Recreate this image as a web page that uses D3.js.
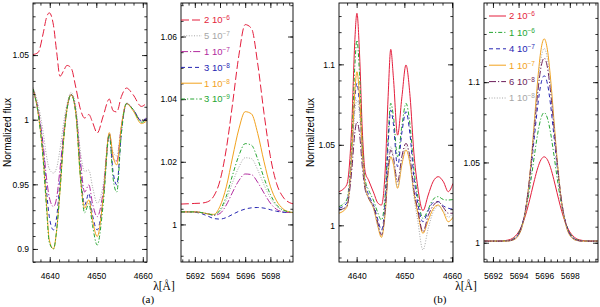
<!DOCTYPE html>
<html><head><meta charset="utf-8">
<script src="https://cdn.jsdelivr.net/npm/d3@7"></script>
<style>body{margin:0;background:#fff}svg{display:block}</style>
</head><body>
<svg id="c" width="600" height="307"></svg>
<script>
// ---------- DATA ----------
// Panel (a) left: 4636-4661 A
const lamA1 = [4636.4,4637.5,4638.6,4639.3,4639.9,4640.8,4641.5,4642.2,4643.0,4643.7,4644.6,4645.6,4646.6,4647.5,4648.4,4649.2,4650.2,4651.5,4652.8,4653.6,4654.4,4655.4,4656.5,4657.9,4659.7,4660.8];
const a1_2e6 = [1.0504,1.052,1.067,1.079,1.0827,1.073,1.052,1.0336,1.038,1.042,1.040,1.025,1.008,1.0013,1.004,0.998,0.9897,1.003,1.016,1.007,1.006,1.018,1.0245,1.0194,1.0103,1.0129];
const a1_5e7 = [1.025,1.012,0.99,0.972,0.962,0.9587,0.963,0.977,0.998,1.012,1.021,1.01,0.975,0.96,0.961,0.948,0.9354,0.95,0.989,0.975,0.972,0.996,1.013,1.008,1.0,1.002];
const a1_1e7 = [1.024,1.008,0.98,0.955,0.94,0.9328,0.94,0.962,0.99,1.009,1.0194,1.007,0.968,0.944,0.9496,0.935,0.925,0.945,0.989,0.97,0.968,0.995,1.0125,1.008,0.999,1.001];
const a1_3e8 = [1.0238,1.006,0.975,0.945,0.925,0.9147,0.925,0.952,0.987,1.008,1.0194,1.006,0.96,0.934,0.943,0.926,0.9147,0.94,0.989,0.96,0.9496,0.99,1.0125,1.008,0.999,1.001];
const a1_1e8 = [1.0238,1.005,0.97,0.935,0.907,0.900,0.915,0.945,0.985,1.008,1.0194,1.005,0.955,0.9315,0.938,0.922,0.9096,0.94,0.990,0.972,0.965,0.995,1.0125,1.007,0.997,0.999];
const a1_3e9 = [1.0238,1.005,0.968,0.932,0.905,0.900,0.915,0.945,0.985,1.008,1.0194,1.005,0.955,0.928,0.935,0.918,0.903,0.935,0.988,0.955,0.944,0.99,1.0125,1.008,0.998,1.0];

// Panel (a) right: 5691-5700 A
const lamA2 = [5690.9,5691.5,5692,5692.5,5693,5693.5,5694,5694.5,5695,5695.5,5696,5696.5,5697,5697.5,5698,5698.5,5699,5699.5,5699.8];
const a2_2e6 = [1.0065,1.0066,1.0067,1.0068,1.0072,1.0090,1.0140,1.0241,1.0386,1.0540,1.0638,1.0626,1.0512,1.0354,1.0217,1.0130,1.0088,1.0070,1.0066];
const a2_5e7 = [1.0040,1.0040,1.0040,1.0038,1.0034,1.0030,1.0042,1.0078,1.0134,1.0183,1.0213,1.0210,1.0174,1.0126,1.0085,1.0058,1.0045,1.0040,1.0038];
const a2_1e7 = [1.0040,1.0040,1.0040,1.0038,1.0034,1.0029,1.0035,1.0062,1.0103,1.0140,1.0161,1.0159,1.0134,1.0100,1.0068,1.0048,1.0040,1.0038,1.0038];
const a2_3e8 = [1.0040,1.0040,1.0039,1.0035,1.0027,1.0019,1.0017,1.0022,1.0032,1.0042,1.0049,1.0053,1.0054,1.0052,1.0047,1.0042,1.0039,1.0038,1.0038];
const a2_1e8 = [1.0040,1.0040,1.0040,1.0038,1.0034,1.0032,1.0058,1.0120,1.0215,1.0305,1.0360,1.0353,1.0290,1.0200,1.0122,1.0075,1.0050,1.0040,1.0038];
const a2_3e9 = [1.0040,1.0040,1.0040,1.0038,1.0034,1.0030,1.0046,1.0090,1.0158,1.0220,1.0258,1.0253,1.0208,1.0148,1.0096,1.0062,1.0046,1.0040,1.0038];

// Panel (b) left: 4636-4660 A
const lamB1 = [4636.3,4637.9,4639.0,4639.6,4640.06,4640.6,4641.2,4641.8,4642.5,4643.6,4644.4,4645.2,4646.0,4646.6,4647.15,4647.7,4648.58,4649.5,4650.34,4651.2,4652.0,4652.8,4653.9,4655.0,4656.0,4657.1,4658.2,4659.2,4660.2];
const b1_2e6 = [1.0209,1.025,1.064,1.1136,1.1317,1.107,1.058,1.033,1.028,1.020,1.014,1.0126,1.035,1.08,1.1093,1.092,1.056,1.08,1.0996,1.08,1.045,1.024,1.0091,1.0188,1.027,1.0302,1.027,1.0209,1.026];
const b1_1e6 = [1.0116,1.0157,1.052,1.098,1.115,1.094,1.050,1.028,1.022,1.015,1.008,1.0033,1.02,1.055,1.0758,1.068,1.0426,1.062,1.0758,1.062,1.035,1.018,1.0043,1.010,1.016,1.0178,1.016,1.0157,1.016];
const b1_4e7 = [1.0106,1.0137,1.045,1.078,1.0882,1.075,1.045,1.026,1.019,1.012,1.004,0.9971,1.015,1.05,1.0716,1.063,1.0364,1.058,1.0706,1.056,1.030,1.014,1.0022,1.009,1.014,1.0147,1.012,1.0106,1.010];
const b1_1e7 = [1.0075,1.011,1.045,1.082,1.0954,1.080,1.045,1.024,1.017,1.010,1.0,0.9925,1.008,1.032,1.0426,1.038,1.023,1.038,1.0468,1.038,1.020,1.008,0.995,1.003,1.010,1.0126,1.008,1.0022,1.005];
const b1_6e8 = [1.0095,1.0116,1.035,1.057,1.0643,1.057,1.036,1.022,1.017,1.011,1.002,0.994,1.01,1.035,1.0468,1.042,1.0271,1.043,1.0509,1.042,1.022,1.010,0.996,1.006,1.012,1.0147,1.011,1.0075,1.0075];
const b1_1e8 = [1.0095,1.012,1.042,1.070,1.0778,1.069,1.040,1.023,1.017,1.010,1.0,0.9945,1.01,1.037,1.0489,1.043,1.024,1.040,1.0489,1.040,1.018,1.003,0.9847,0.998,1.008,1.012,1.009,1.005,1.0075];

// Panel (b) right: 5691-5700 A
const lamB2 = [5691.3,5692,5692.5,5693,5693.5,5693.75,5694,5694.25,5694.5,5694.75,5695,5695.25,5695.5,5695.75,5696,5696.25,5696.5,5696.75,5697,5697.25,5697.5,5697.75,5698,5698.25,5698.5,5699,5699.5,5700.2];
const b2_2e6 = [1.001,1.001,1.001,1.0014,1.0026,1.0042,1.0067,1.0106,1.0161,1.0231,1.0312,1.0394,1.0467,1.0517,1.0535,1.0517,1.0467,1.0394,1.0312,1.0231,1.0161,1.0106,1.0067,1.0042,1.0026,1.0014,1.001,1.001];
const b2_1e6 = [1.001,1.001,1.001,1.0012,1.002,1.0034,1.006,1.0106,1.0179,1.0281,1.041,1.0552,1.0683,1.0776,1.081,1.0776,1.0683,1.0552,1.041,1.0281,1.0179,1.0106,1.006,1.0034,1.002,1.0012,1.001,1.001];
const b2_4e7 = [1.001,1.001,1.001,1.0011,1.0018,1.003,1.0055,1.0104,1.0187,1.0314,1.0482,1.0673,1.0857,1.0991,1.104,1.0991,1.0857,1.0673,1.0482,1.0314,1.0187,1.0104,1.0055,1.003,1.0018,1.0011,1.001,1.001];
const b2_1e7 = [1.001,1.001,1.001,1.001,1.0015,1.0024,1.0046,1.0093,1.018,1.0324,1.0528,1.0775,1.1019,1.1202,1.127,1.1202,1.1019,1.0775,1.0528,1.0324,1.018,1.0093,1.0046,1.0024,1.0015,1.001,1.001,1.001];
const b2_6e8 = [1.001,1.001,1.001,1.001,1.0017,1.0028,1.0052,1.0102,1.0189,1.0326,1.0512,1.0728,1.0938,1.1093,1.115,1.1093,1.0938,1.0728,1.0512,1.0326,1.0189,1.0102,1.0052,1.0028,1.0017,1.001,1.001,1.001];
const b2_1e8 = [1.001,1.001,1.001,1.001,1.0015,1.0025,1.0047,1.0095,1.0182,1.032,1.0514,1.0747,1.0976,1.1146,1.121,1.1146,1.0976,1.0747,1.0514,1.032,1.0182,1.0095,1.0047,1.0025,1.0015,1.001,1.001,1.001];

// legend labels (coefficient, exponent)
const legA = [["2","6"],["5","7"],["1","7"],["3","8"],["1","8"],["3","9"]];
const legB = [["2","6"],["1","6"],["4","7"],["1","7"],["6","8"],["1","8"]];

// ticks
const xTicksL = [4640,4650,4660];
const xTicksR = [5692,5694,5696,5698];
const yTicksA1 = [0.9,0.95,1,1.05];
const yTicksA2 = [1,1.02,1.04,1.06];
const yTicksB1 = [1,1.05,1.1];
const yTicksB2 = [1,1.05,1.1];

// ---------- STYLES ----------
const C = {red:"#e41e3c", gray:"#a6a6a6", mag:"#b22a9e", blue:"#2626b2", orange:"#f2a21e", green:"#26a632", purple:"#6c1e5a"};
const D = {ldash:"8,3", dot:"1,1.6", ldd:"7,2,1.2,2", dash:"4,3", solid:null, dd:"4,2,1.2,2"};
const serA = [
  {c:C.red,d:D.ldash},{c:C.gray,d:D.dot},{c:C.mag,d:D.ldd},{c:C.blue,d:D.dash},{c:C.orange,d:D.solid},{c:C.green,d:D.dd}];
const serB = [
  {c:C.red,d:D.solid},{c:C.green,d:D.dd},{c:C.blue,d:D.dash},{c:C.orange,d:D.solid},{c:C.purple,d:D.ldd},{c:C.gray,d:D.dot}];

const svg = d3.select("#c");
const FONT = "'Liberation Sans', Arial, sans-serif";
const SERIF = "'Liberation Serif', 'Times New Roman', serif";

function minorVals(dom, step){
  const out=[]; const s=Math.ceil(dom[0]/step-1e-9);
  for(let k=s; k*step<=dom[1]+1e-9; k++) out.push(+(k*step).toFixed(6));
  return out;
}

function panel(cfg){
  const x = d3.scaleLinear().domain(cfg.xd).range([cfg.l,cfg.r]);
  const y = d3.scaleLinear().domain(cfg.yd).range([cfg.b,cfg.t]);
  const g = svg.append("g");
  const cid = "clip"+cfg.id;
  svg.append("clipPath").attr("id",cid).append("rect")
    .attr("x",cfg.l).attr("y",cfg.t).attr("width",cfg.r-cfg.l).attr("height",cfg.b-cfg.t);
  const line = d3.line().x((d,i)=>x(cfg.lam[i])).y(d=>y(d)).curve(d3.curveMonotoneX);
  cfg.data.forEach((v,k)=>{
    const s = cfg.styles[k];
    g.append("path").attr("d",line(v)).attr("clip-path",`url(#${cid})`)
      .attr("fill","none").attr("stroke",s.c).attr("stroke-width",1)
      .attr("stroke-dasharray",s.d);
  });
  const addAxis=(axis, tr, labels)=>{
    const a = g.append("g").attr("transform",tr).call(axis);
    a.select(".domain").remove();
    a.selectAll("line").attr("stroke","#000").attr("stroke-width",0.8);
    a.selectAll("text").attr("font-family",FONT).attr("font-size",8.5).attr("fill","#000");
    if(!labels) a.selectAll("text").remove();
    return a;
  };
  const ML=5, mL=2.6;
  addAxis(d3.axisBottom(x).tickValues(cfg.xt).tickSize(-ML).tickPadding(11).tickFormat(d=>d), `translate(0,${cfg.b})`, true);
  addAxis(d3.axisBottom(x).tickValues(minorVals(cfg.xd,cfg.xm)).tickSize(-mL).tickFormat(""), `translate(0,${cfg.b})`, false);
  addAxis(d3.axisTop(x).tickValues(cfg.xt).tickSize(-ML).tickFormat(""), `translate(0,${cfg.t})`, false);
  addAxis(d3.axisTop(x).tickValues(minorVals(cfg.xd,cfg.xm)).tickSize(-mL).tickFormat(""), `translate(0,${cfg.t})`, false);
  addAxis(d3.axisLeft(y).tickValues(cfg.yt).tickSize(-ML).tickPadding(4).tickFormat(d=>String(+d.toFixed(3))), `translate(${cfg.l},0)`, true);
  addAxis(d3.axisLeft(y).tickValues(minorVals(cfg.yd,cfg.ym)).tickSize(-mL).tickFormat(""), `translate(${cfg.l},0)`, false);
  addAxis(d3.axisRight(y).tickValues(cfg.yt).tickSize(-ML).tickFormat(""), `translate(${cfg.r},0)`, false);
  addAxis(d3.axisRight(y).tickValues(minorVals(cfg.yd,cfg.ym)).tickSize(-mL).tickFormat(""), `translate(${cfg.r},0)`, false);
  g.append("rect").attr("x",cfg.l).attr("y",cfg.t).attr("width",cfg.r-cfg.l).attr("height",cfg.b-cfg.t)
    .attr("fill","none").attr("stroke","#000").attr("stroke-width",0.9);
  if(cfg.ylab){
    g.append("text").attr("transform",`translate(${cfg.ylab},${(cfg.t+cfg.b)/2}) rotate(-90)`)
      .attr("text-anchor","middle").attr("dy","0.35em").attr("font-family",FONT).attr("font-size",10)
      .text("Normalized flux");
  }
  if(cfg.leg){
    const L = cfg.leg;
    L.labels.forEach((lb,k)=>{
      const s = cfg.styles[k];
      const yy = L.y0 + k*L.dy;
      g.append("line").attr("x1",L.x1).attr("x2",L.x2).attr("y1",yy).attr("y2",yy)
        .attr("stroke",s.c).attr("stroke-width",1).attr("stroke-dasharray",s.d);
      const t = g.append("text").attr("x",L.tx).attr("y",yy).attr("dy","0.35em")
        .attr("font-family",FONT).attr("font-size",9.5).attr("fill",s.c);
      t.append("tspan").text(lb[0]+" 10");
      t.append("tspan").attr("dy","-0.45em").attr("font-size",6.5).text("\u2212"+lb[1]);
    });
  }
  return {x,y};
}

panel({id:1,l:33,r:147,t:3,b:262,xd:[4636.4,4660.9],yd:[0.8899,1.0903],xt:xTicksL,xm:2,yt:yTicksA1,ym:0.01,
  lam:lamA1,data:[a1_2e6,a1_5e7,a1_1e7,a1_3e8,a1_1e8,a1_3e9],styles:serA,ylab:7});
panel({id:2,l:181,r:293,t:3,b:262,xd:[5690.9,5699.8],yd:[0.988,1.0707],xt:xTicksR,xm:0.5,yt:yTicksA2,ym:0.005,
  lam:lamA2,data:[a2_2e6,a2_5e7,a2_1e7,a2_3e8,a2_1e8,a2_3e9],styles:serA,
  leg:{labels:legA,x1:181,x2:202,tx:204,y0:20,dy:15.8}});
panel({id:3,l:339,r:453,t:3,b:262,xd:[4636.3,4660.2],yd:[0.9772,1.1381],xt:xTicksL,xm:2,yt:yTicksB1,ym:0.01,
  lam:lamB1,data:[b1_2e6,b1_1e6,b1_4e7,b1_1e7,b1_6e8,b1_1e8],styles:serB,ylab:310});
panel({id:4,l:484,r:598,t:3,b:262,xd:[5691.3,5700.2],yd:[0.988,1.1493],xt:xTicksR,xm:0.5,yt:yTicksB2,ym:0.01,
  lam:lamB2,data:[b2_2e6,b2_1e6,b2_4e7,b2_1e7,b2_6e8,b2_1e8],styles:serB,
  leg:{labels:legB,x1:489,x2:506,tx:509,y0:16,dy:16.4}});

// axis titles / panel labels
const lamLabel = (cx)=>{
  svg.append("text").attr("x",cx).attr("y",290).attr("text-anchor","middle")
    .attr("font-family",SERIF).attr("font-size",11.5).text("\u03bb[\u00c5]");
};
lamLabel(164); lamLabel(466);
svg.append("text").attr("x",148).attr("y",303).attr("text-anchor","middle").attr("font-family",SERIF).attr("font-size",11).text("(a)");
svg.append("text").attr("x",440).attr("y",303).attr("text-anchor","middle").attr("font-family",SERIF).attr("font-size",11).text("(b)");
</script>
</body></html>
